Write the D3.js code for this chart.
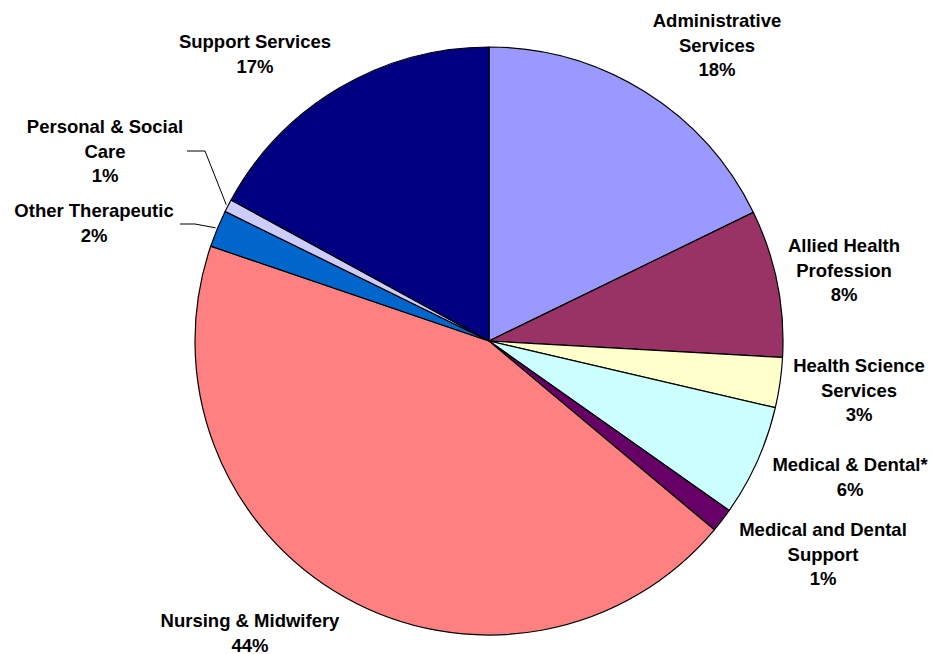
<!DOCTYPE html>
<html>
<head>
<meta charset="utf-8">
<script src="https://cdn.jsdelivr.net/npm/d3@7"></script>
<style>
  body { margin: 0; background: #fff; }
  svg text { font-family: "Liberation Sans", Arial, sans-serif; font-weight: bold; fill: #000; }
</style>
</head>
<body>
<svg id="chart" width="933" height="654"></svg>
<script>
// slice order: clockwise from 12 o'clock
var categories = ["Administrative Services", "Allied Health Profession", "Health Science Services",
  "Medical & Dental*", "Medical and Dental Support", "Nursing & Midwifery",
  "Other Therapeutic", "Personal & Social Care", "Support Services"];
var values = [17.8, 8.1, 2.75, 6.14, 1.32, 44.14, 2.04, 0.7, 17.04];
var percentLabels = ["18%", "8%", "3%", "6%", "1%", "44%", "2%", "1%", "17%"];
var labelLines = [
  ["Administrative", "Services"],
  ["Allied Health", "Profession"],
  ["Health Science", "Services"],
  ["Medical & Dental*"],
  ["Medical and Dental", "Support"],
  ["Nursing & Midwifery"],
  ["Other Therapeutic"],
  ["Personal & Social", "Care"],
  ["Support Services"]
];
var colors = ["#9999FF", "#993366", "#FFFFCC", "#CCFFFF", "#660066", "#FF8080", "#0066CC", "#CCCCFF", "#000080"];

// label anchor (center x, first baseline)
var labelPos = [
  [717, 27], [844, 252], [859, 372], [850, 471], [823, 536],
  [250, 627], [94, 217], [105, 133], [255, 48]
];
var lineH = 24.5;

var cx = 489, cy = 341, radius = 294;

var svg = d3.select("#chart");
var g = svg.append("g").attr("transform", "translate(" + cx + "," + cy + ")");

var pie = d3.pie().sort(null).value(function(d) { return d; });
var arc = d3.arc().innerRadius(0).outerRadius(radius);
var arcs = pie(values);

g.selectAll("path")
  .data(arcs)
  .enter()
  .append("path")
  .attr("d", arc)
  .attr("fill", function(d, i) { return colors[i]; })
  .attr("stroke", "#000")
  .attr("stroke-width", 1.2)
  .attr("stroke-linejoin", "round");

// leader lines for the two small slices on the left
var leaders = [
  { idx: 7, x0: 187, y0: 151, x1: 205 },
  { idx: 6, x0: 180, y0: 224, x1: 195 }
];
var outer = d3.arc().innerRadius(radius + 2).outerRadius(radius + 2);
leaders.forEach(function(l) {
  var c = outer.centroid(arcs[l.idx]);
  svg.append("polyline")
    .attr("points", [[l.x0, l.y0], [l.x1, l.y0], [cx + c[0], cy + c[1]]].map(function(p) { return p.join(","); }).join(" "))
    .attr("fill", "none")
    .attr("stroke", "#000")
    .attr("stroke-width", 1);
});

var labels = svg.selectAll("text.lbl")
  .data(categories)
  .enter()
  .append("text")
  .attr("class", "lbl")
  .attr("text-anchor", "middle")
  .attr("font-size", 18.5);

labels.each(function(d, i) {
  var t = d3.select(this);
  var lines = labelLines[i].concat([percentLabels[i]]);
  lines.forEach(function(s, k) {
    t.append("tspan")
      .attr("x", labelPos[i][0])
      .attr("y", labelPos[i][1] + k * lineH)
      .text(s);
  });
});
</script>
</body>
</html>
